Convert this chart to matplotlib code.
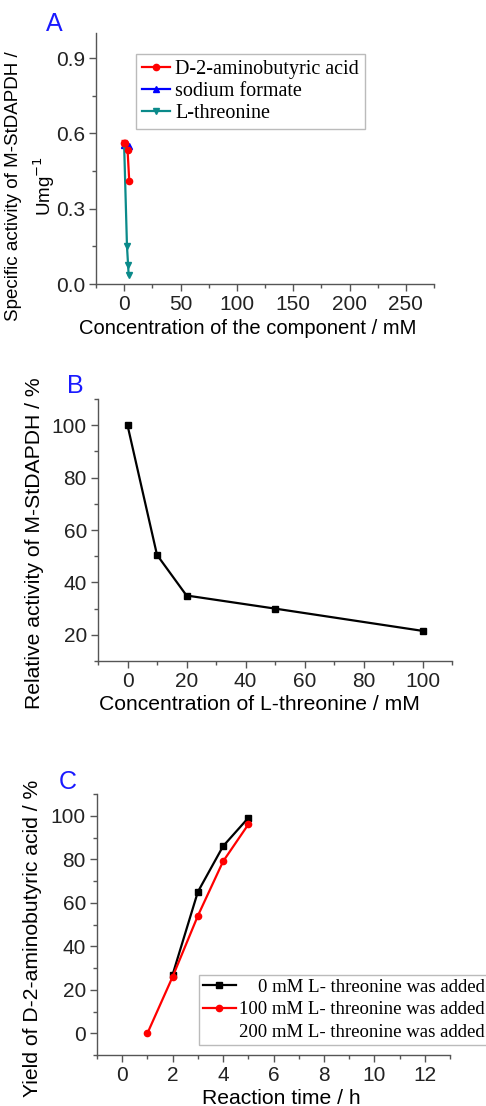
import matplotlib
matplotlib.use("Agg")
import matplotlib.pyplot as plt
from matplotlib.lines import Line2D
from matplotlib.ticker import MultipleLocator, FormatStrFormatter

# ---- data: panel A (specific activity vs component concentration) ----
d2aba_conc = [0, 1, 3, 4.5]
d2aba_act = [0.56, 0.56, 0.535, 0.41]
d2aba_err = [0.015, 0.0, 0.0, 0.0]
formate_conc = [0, 1, 2, 4.5]
formate_act = [0.555, 0.56, 0.555, 0.55]
thr_conc = [0, 2.5, 3.5, 4]
thr_act = [0.55, 0.15, 0.075, 0.035]

# ---- data: panel B (relative activity vs L-threonine) ----
b_conc = [0, 10, 20, 50, 100]
b_rel = [100, 50.5, 35, 30, 21.5]

# ---- data: panel C (yield vs reaction time) ----
c_time_0 = [2, 3, 4, 5]
c_yield_0 = [27, 65, 86, 99]
c_time_100 = [1, 2, 3, 4, 5]
c_yield_100 = [0, 26, 54, 79, 96]

W, H = 486, 1106
SANS = ["Liberation Sans", "DejaVu Sans"]
SERIF = ["Liberation Serif", "DejaVu Serif"]
SPINE = "#555555"
TEAL = "#0a8a8a"
TICK_FS = 15
LW = 1.6
MS = 4.5

plt.rcParams["font.family"] = SANS

fig = plt.figure(figsize=(W / 100, H / 100), dpi=100)


def px_axes(left, top, right, bottom):
    return fig.add_axes([left / W, 1 - bottom / H, (right - left) / W, (bottom - top) / H])


def style(ax, xmaj, xmin, ymaj, ymin):
    for s in ("top", "right"):
        ax.spines[s].set_visible(False)
    for s in ("left", "bottom"):
        ax.spines[s].set_color(SPINE)
        ax.spines[s].set_linewidth(1.0)
    ax.xaxis.set_major_locator(MultipleLocator(xmaj))
    ax.xaxis.set_minor_locator(MultipleLocator(xmin))
    ax.yaxis.set_major_locator(MultipleLocator(ymaj))
    ax.yaxis.set_minor_locator(MultipleLocator(ymin))
    ax.tick_params(which="major", direction="out", length=5, width=1, color=SPINE,
                   labelsize=TICK_FS, labelcolor="#222222", pad=3)
    ax.tick_params(which="minor", direction="out", length=3, width=1, color=SPINE)


def ftext(x, y, s, **kw):
    return fig.text(x / W, 1 - y / H, s, **kw)


# ---------------- panel A ----------------
axA = px_axes(96, 33, 434, 284)
axA.errorbar(d2aba_conc, d2aba_act, yerr=d2aba_err, color="red", marker="o", ms=MS,
             lw=LW, capsize=2)
axA.plot(formate_conc, formate_act, color="blue", marker="^", ms=MS, lw=LW)
axA.plot(thr_conc, thr_act, color=TEAL, marker="v", ms=MS, lw=LW)
axA.set_xlim(-25, 275)
axA.set_ylim(0, 1.0)
style(axA, 50, 25, 0.3, 0.15)
axA.yaxis.set_major_formatter(FormatStrFormatter("%.1f"))
handlesA = [Line2D([], [], color="red", marker="o", ms=MS, lw=LW),
            Line2D([], [], color="blue", marker="^", ms=MS, lw=LW),
            Line2D([], [], color=TEAL, marker="v", ms=MS, lw=LW)]
legA = fig.legend(handlesA, ["D-2-aminobutyric acid", "sodium formate", "L-threonine"],
                  loc="upper left", bbox_to_anchor=(136 / W, 1 - 54 / H),
                  prop={"family": SERIF, "size": 14.5}, fancybox=False,
                  edgecolor="#bbbbbb", framealpha=1, borderaxespad=0,
                  handlelength=1.4, handletextpad=0.25, labelspacing=0.15,
                  borderpad=0.3, numpoints=1)
legA.get_frame().set_linewidth(1.0)
ftext(54, 24, "A", color="#1a1aff", fontsize=18, ha="center", va="center")
ftext(31, 186, "Specific activity of M-StDAPDH /\nUmg$^{-1}$", rotation=90,
      ha="center", va="center", fontsize=13.5, linespacing=1.45)
ftext(248, 328, "Concentration of the component / mM", ha="center", va="center",
      fontsize=14.5)

# ---------------- panel B ----------------
axB = px_axes(98, 399, 452, 661)
axB.plot(b_conc, b_rel, color="black", marker="s", ms=MS, lw=LW)
axB.set_xlim(-10, 110)
axB.set_ylim(10, 110)
style(axB, 20, 10, 20, 10)
ftext(75, 386, "B", color="#1a1aff", fontsize=18, ha="center", va="center")
ftext(35, 543, "Relative activity of M-StDAPDH / %", rotation=90,
      ha="center", va="center", fontsize=15.2)
ftext(259, 705, "Concentration of L-threonine / mM", ha="center", va="center",
      fontsize=15.2)

# ---------------- panel C ----------------
axC = px_axes(97, 794, 450, 1055)
axC.plot(c_time_0, c_yield_0, color="black", marker="s", ms=MS, lw=LW)
axC.plot(c_time_100, c_yield_100, color="red", marker="o", ms=MS, lw=LW)
axC.set_xlim(-1, 13)
axC.set_ylim(-10, 110)
style(axC, 2, 1, 20, 10)
handlesC = [Line2D([], [], color="black", marker="s", ms=MS, lw=LW),
            Line2D([], [], color="red", marker="o", ms=MS, lw=LW),
            Line2D([], [], color="none")]
legC = fig.legend(handlesC, ["    0 mM L- threonine was added",
                             "100 mM L- threonine was added",
                             "200 mM L- threonine was added"],
                  loc="lower left", bbox_to_anchor=(199 / W, 1 - 1045 / H),
                  prop={"family": SERIF, "size": 13.5}, fancybox=False,
                  edgecolor="#bbbbbb", framealpha=1, borderaxespad=0,
                  handlelength=1.75, handletextpad=0.2, labelspacing=0.3,
                  borderpad=0.2, numpoints=1)
legC.get_frame().set_linewidth(1.0)
ftext(68, 782, "C", color="#1a1aff", fontsize=18, ha="center", va="center")
ftext(33, 938, "Yield of D-2-aminobutyric acid / %", rotation=90,
      ha="center", va="center", fontsize=15.2)
ftext(281, 1104, "Reaction time / h", ha="center", va="baseline", fontsize=15.2)

fig.savefig("out.png", dpi=100, facecolor="white")
